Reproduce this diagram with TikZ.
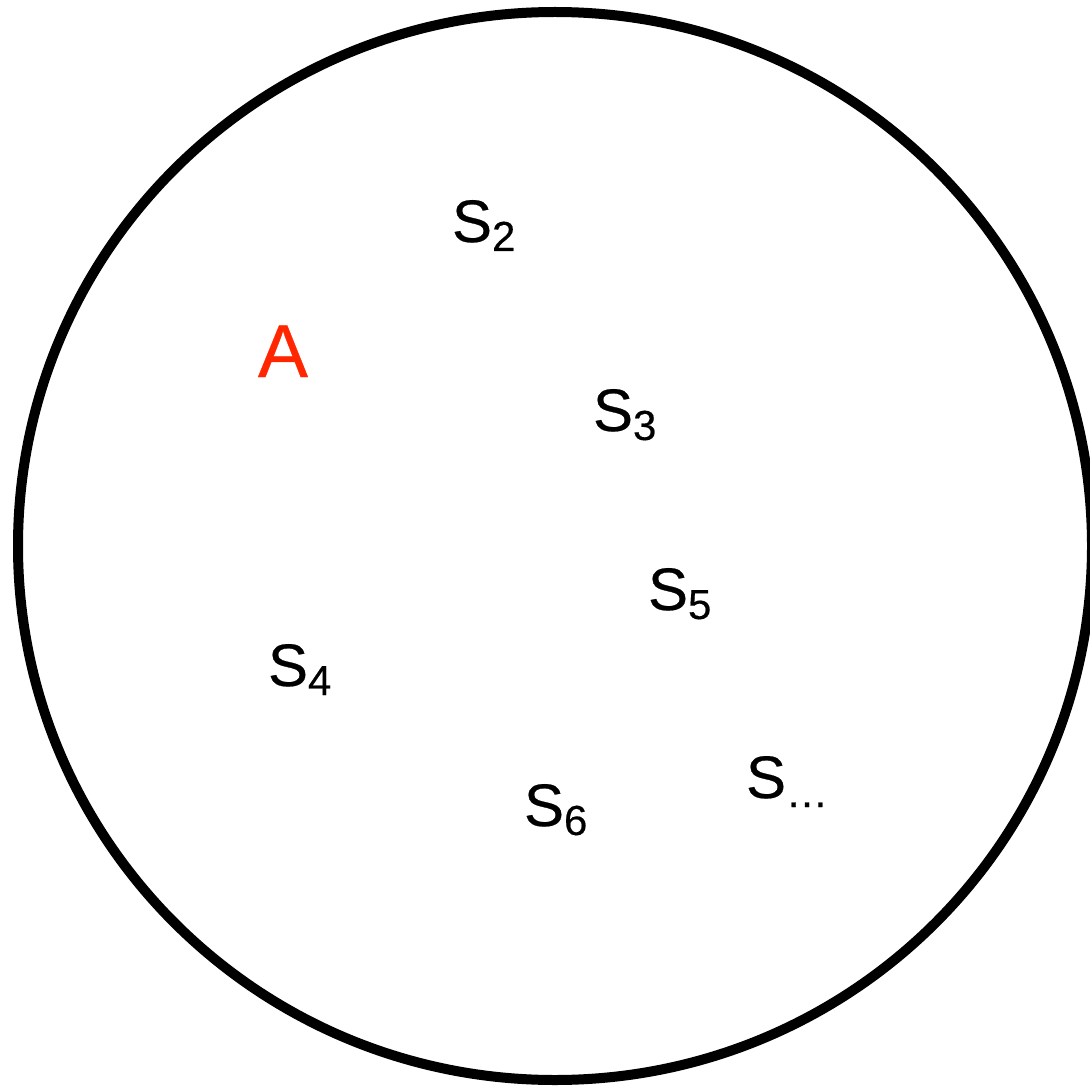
\documentclass[tikz,border=0pt]{standalone}
\usepackage{fontspec}
\setmainfont{Liberation Sans}[FakeBold=0.4]
\definecolor{keyred}{RGB}{255,38,0}
\newcommand{\slab}[1]{{\fontsize{60}{60}\selectfont S\raisebox{-9pt}{\fontsize{42}{42}\selectfont #1}}}
\begin{document}
\begin{tikzpicture}[x=1pt,y=-1pt,
  lab/.style={anchor=base west,inner sep=0pt,outer sep=0pt}]
\useasboundingbox (0,0) rectangle (1090,1086);
\clip (0,0) rectangle (1090,1086);
\draw[line width=10pt] (555,546) ellipse [x radius=537, y radius=534];
\node[lab] (s2) at (452,242) {\slab{2}};
\node[lab,text=keyred] (a) at (258,377) {\fontsize{75}{75}\selectfont A};
\node[lab] (s3) at (593,431) {\slab{3}};
\node[lab] (s5) at (648,610) {\slab{5}};
\node[lab] (s4) at (268,686) {\slab{4}};
\node[lab] (s6) at (524,826) {\slab{6}};
\node[lab] (sd) at (746,798) {\slab{\dots}};
\end{tikzpicture}
\end{document}
